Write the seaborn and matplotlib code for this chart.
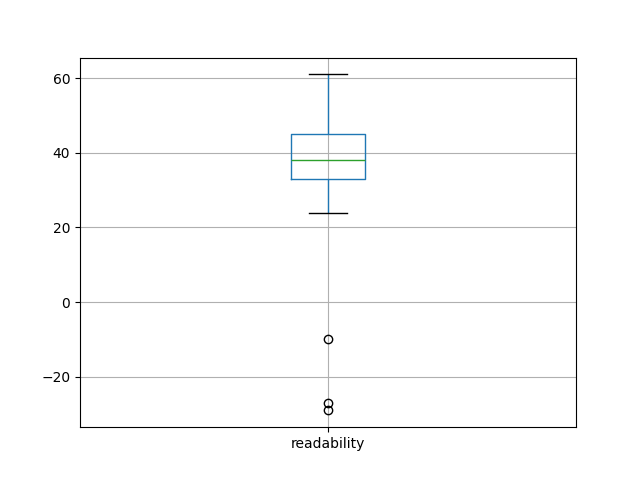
import pandas as pd
import matplotlib
matplotlib.use("Agg")
import matplotlib.pyplot as plt
import seaborn as sns

# readability scores
readability = [-29, -27, -10, 24, 30, 33, 34, 35, 36, 37, 38,
               39, 40, 42, 44, 45, 48, 50, 53, 57, 61]

df = pd.DataFrame({"readability": readability})

fig, ax = plt.subplots(figsize=(6.4, 4.8), dpi=100)
sns.boxplot(
    data=df,
    width=0.15,
    fill=False,
    linewidth=1,
    boxprops=dict(color="C0"),
    whiskerprops=dict(color="C0"),
    capprops=dict(color="black"),
    medianprops=dict(color="C2"),
    flierprops=dict(marker="o", markerfacecolor="none",
                    markeredgecolor="black", markersize=6),
    ax=ax,
)
ax.set_axisbelow(True)
ax.grid(True)
ax.set_xlim(-0.5, 0.5)

plt.savefig("out.png", dpi=100)
